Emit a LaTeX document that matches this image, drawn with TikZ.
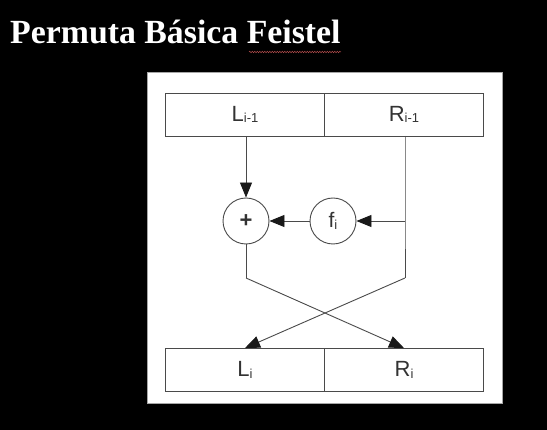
\documentclass[tikz,border=0pt]{standalone}
\usepackage{fontspec}
\setmainfont{Liberation Serif}
\newfontfamily\arial{Liberation Sans}
\usetikzlibrary{arrows.meta,decorations.pathmorphing}
\definecolor{ln}{HTML}{4A4A4A}
\definecolor{txt}{HTML}{333333}
\tikzset{
  half/.style={draw=ln,line width=0.9pt,minimum width=159pt,minimum height=43pt,inner sep=0pt,font=\arial\fontsize{22}{22}\selectfont,text=txt},
  op/.style={draw=ln,line width=0.9pt,circle,minimum size=46pt,inner sep=0pt,text=txt},
  wire/.style={draw=ln,line width=0.9pt},
  arr/.style={wire,-{Triangle[length=15pt,width=12pt,color=black!90]}}
}
\newcommand{\sbs}[1]{\raisebox{-1.5pt}{\fontsize{13}{13}\selectfont #1}}
\begin{document}
\begin{tikzpicture}[x=1pt,y=-1pt]
\fill[black] (0,0) rectangle (547,430);
\useasboundingbox (0,0) rectangle (547,430);
\node[anchor=base west,text=white,font=\bfseries\fontsize{33.8}{33.8}\selectfont,inner sep=0pt] (title) at (10,44) {Permuta Básica Feistel};
\draw[red!40!gray,line width=0.5pt,decorate,decoration={snake,amplitude=0.7pt,segment length=2.5pt}] (249,52) -- (341,52);
\node[fill=white,draw=gray!70,line width=0.8pt,minimum width=355pt,minimum height=331pt,inner sep=0pt] (panel) at (324.5,237.5) {};
\node[half] (L0) at (245,114.5) {L\sbs{i-1}};
\node[half] (R0) at (404,114.5) {R\sbs{i-1}};
\node[half] (L1) at (245,370) {L\sbs{i}};
\node[half] (R1) at (404,370) {R\sbs{i}};
\node[op,font=\arial\bfseries\fontsize{22}{22}\selectfont] (plus) at (246,221) {+};
\node[op,font=\arial\fontsize{21}{21}\selectfont] (f) at (333,221) {f\sbs{i}};
\coordinate (rt) at (405,136);
\coordinate (rj) at (405,221);
\coordinate (rb) at (405,278);
\coordinate (lb) at (246,278);
\draw[arr] (L0.south -| plus) -- (plus);
\draw[wire] (rt) -- (rj) -- (rb);
\draw[arr] (rj) -- (f);
\draw[arr] (f) -- (plus);
\draw[wire] (plus) -- (lb);
\draw[arr] (lb) -- (R1.north);
\draw[arr] (rb) -- (L1.north);
\end{tikzpicture}
\end{document}
